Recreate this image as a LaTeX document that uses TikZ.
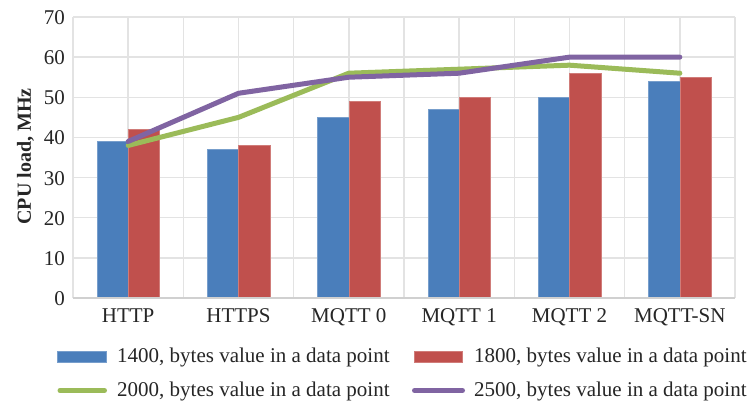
\documentclass[tikz,border=0pt]{standalone}
\usepackage{fontspec}
\setmainfont{Liberation Serif}
\definecolor{cblue}{HTML}{4A7EBB}
\definecolor{cred}{HTML}{C0504D}
\definecolor{cgreen}{HTML}{9BBB59}
\definecolor{cpurple}{HTML}{8064A2}
\definecolor{cgrid}{HTML}{E3E3E3}
\definecolor{caxis}{HTML}{D0D0D0}
\definecolor{ctext}{HTML}{262626}
\begin{document}
\begin{tikzpicture}[x=1pt,y=1pt,
  gridline/.style={draw=cgrid, line width=1.4pt},
  axisline/.style={draw=caxis, line width=2pt},
  barA/.style={fill=cblue, draw=cblue!75!white, line width=0.5pt},
  barB/.style={fill=cred, draw=cred!75!white, line width=0.5pt},
  serA/.style={draw=cgreen, line width=5pt, line cap=round, line join=round},
  serB/.style={draw=cpurple, line width=5pt, line cap=round, line join=round},
  lbl/.style={font=\fontsize{21}{24}\selectfont, text=ctext, inner sep=0pt},
  ylbl/.style={font=\fontsize{20}{24}\selectfont\bfseries, text=ctext, inner sep=0pt}
]
\fill[white] (0,0) rectangle (753,403);
\useasboundingbox (0,0) rectangle (753,403);
% grid
\foreach \v in {10,20,...,70} {
  \draw[gridline] (73,{105+4.014*\v}) -- (735,{105+4.014*\v});
}
\foreach \k in {0,...,12} {
  \draw[gridline] ({73+55.1667*\k},105) -- ({73+55.1667*\k},386);
}
% bars
\foreach \i/\a/\b in {0/39/42,1/37/38,2/45/49,3/47/50,4/50/56,5/54/55} {
  \pgfmathsetmacro\c{73+110.333*(\i+0.5)}
  \filldraw[barA] ({\c-31.3},105) rectangle (\c,{105+4.014*\a});
  \filldraw[barB] (\c,105) rectangle ({\c+31.3},{105+4.014*\b});
}
\draw[axisline] (73,105) -- (735,105);
% lines
\draw[serA] (128.17,{105+4.014*38}) -- (238.5,{105+4.014*45}) -- (348.83,{105+4.014*56})
  -- (459.17,{105+4.014*57}) -- (569.5,{105+4.014*58}) -- (679.83,{105+4.014*56});
\draw[serB] (128.17,{105+4.014*39}) -- (238.5,{105+4.014*51}) -- (348.83,{105+4.014*55})
  -- (459.17,{105+4.014*56}) -- (569.5,{105+4.014*60}) -- (679.83,{105+4.014*60});
% y tick labels
\foreach \v in {0,10,...,70} {
  \node[lbl, anchor=base east] (t\v) at (65,{105+4.014*\v-7.5}) {\v};
}
% category labels
\foreach \i/\t in {0/HTTP,1/HTTPS,2/MQTT 0,3/MQTT 1,4/MQTT 2,5/MQTT-SN} {
  \node[lbl, anchor=base] (cat\i) at ({73+110.333*(\i+0.5)},80.5) {\t};
}
% y axis title
\node[ylbl, rotate=90, anchor=base] (ytitle) at (31,246.5) {CPU load, MHz};
% legend
\filldraw[barA] (57.7,40.3) rectangle (106.7,51.6);
\filldraw[barB] (414,40.3) rectangle (462.7,51.6);
\draw[serA] (60,12.5) -- (104.5,12.5);
\draw[serB] (414.5,12.5) -- (462.5,12.5);
\node[lbl, anchor=base west] (l1) at (117,40) {1400, bytes value in a data point};
\node[lbl, anchor=base west] (l2) at (474,40) {1800, bytes value in a data point};
\node[lbl, anchor=base west] (l3) at (117,6.5) {2000, bytes value in a data point};
\node[lbl, anchor=base west] (l4) at (474,6.5) {2500, bytes value in a data point};
\end{tikzpicture}
\end{document}
